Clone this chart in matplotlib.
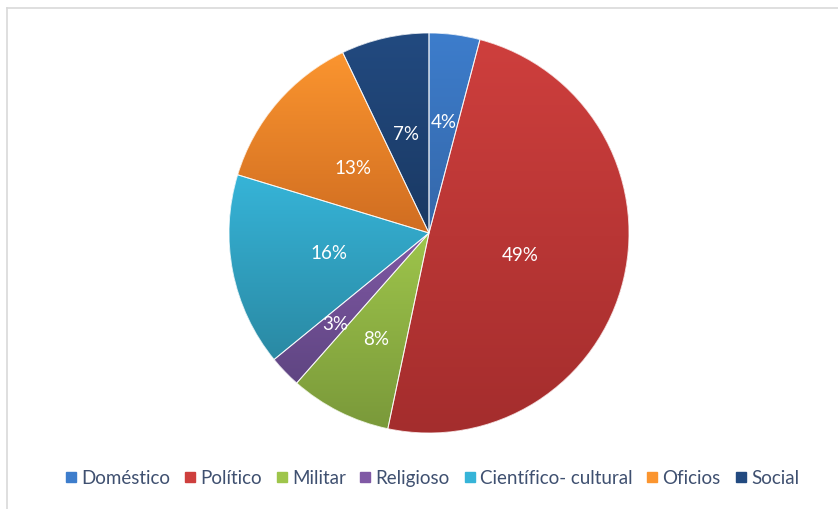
import numpy as np
import matplotlib.pyplot as plt
from matplotlib.colors import to_rgb
from matplotlib.lines import Line2D
from matplotlib.patches import Wedge

categories = ["Doméstico", "Político", "Militar", "Religioso",
              "Científico- cultural", "Oficios", "Social"]
shares = [4.1, 49.2, 8.2, 2.6, 15.6, 13.2, 7.1]

# light (top) / dark (bottom) tone for each slice
top_colors = ["#3d7dcc", "#ce3f3d", "#9ec54b", "#8059a5", "#36b4d8", "#fb952f", "#224a80"]
bottom_colors = ["#3467a9", "#a42d2d", "#7a993a", "#5f4582", "#2a89a3", "#d06d21", "#1a3963"]
label_r = [0.56, 0.47, 0.59, 0.65, 0.51, 0.50, 0.51]

FONT = ["Lato", "DejaVu Sans"]
W, H = 838, 510

fig = plt.figure(figsize=(W / 100, H / 100), dpi=100)
cx, cy, R = 429, 234, 200
ax = fig.add_axes([(cx - R) / W, (H - cy - R) / H, 2 * R / W, 2 * R / H])

wedges, _ = ax.pie(shares, colors=top_colors, startangle=90, counterclock=False,
                   radius=1, wedgeprops=dict(linewidth=0))

for w, c_top, c_bot, r in zip(wedges, top_colors, bottom_colors, label_r):
    bb = w.get_path().get_extents()
    t = np.linspace(0, 1, 256)[:, None]
    grad = (1 - t) * np.array(to_rgb(c_top)) + t * np.array(to_rgb(c_bot))
    img = ax.imshow(grad[:, None, :].repeat(2, axis=1), extent=[bb.x0, bb.x1, bb.y0, bb.y1],
                    origin="upper", aspect="auto", interpolation="bilinear", zorder=2)
    img.set_clip_path(w)
    ax.add_patch(Wedge(w.center, w.r, w.theta1, w.theta2, fill=False,
                       edgecolor="white", linewidth=0.7, alpha=0.8, zorder=3))
    mid = np.deg2rad((w.theta1 + w.theta2) / 2)
    pct = (w.theta2 - w.theta1) / 360 * 100
    ax.text(r * np.cos(mid), r * np.sin(mid), f"{pct:.0f}%", color="white",
            ha="center", va="center", fontsize=13.5, family=FONT, zorder=4)

ax.set_xlim(-1, 1)
ax.set_ylim(-1, 1)
ax.set_aspect("equal")
ax.axis("off")

handles = [Line2D([], [], marker="s", linestyle="none", markersize=7.5,
                  markerfacecolor=c, markeredgecolor=c) for c in top_colors]
fig.legend(handles, categories, loc="center", bbox_to_anchor=(0.514, 1 - 479 / H),
           ncol=7, frameon=False, handletextpad=0.1, columnspacing=0.6,
           handlelength=0.9, prop=dict(family=FONT, size=13.5), labelcolor="#3f5070")

# light frame on the top and left edges
fig.add_artist(Line2D([7 / W, 7 / W], [0, 1 - 9 / H], color="#d9d9d9", lw=1.2))
fig.add_artist(Line2D([7 / W, 1], [1 - 9 / H, 1 - 9 / H], color="#d9d9d9", lw=1.2))

fig.savefig("out.png", dpi=100)
